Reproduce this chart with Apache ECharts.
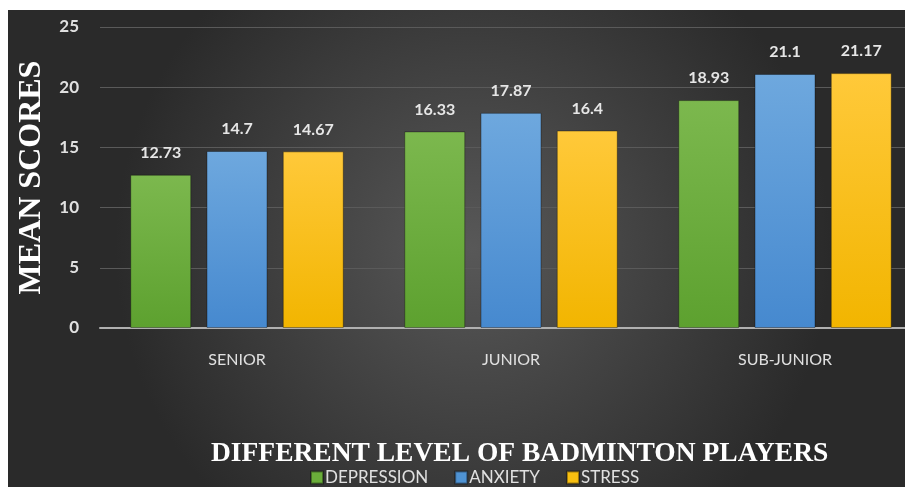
<!DOCTYPE html>
<html>
<head>
<meta charset="utf-8">
<script src="https://cdn.jsdelivr.net/npm/echarts@6/dist/echarts.min.js"></script>
<style>
html,body{margin:0;padding:0;background:#fff;overflow:hidden;}
#wrap{position:absolute;left:8px;top:10px;width:897px;height:477px;overflow:hidden;}
#c{position:absolute;left:0;top:0;width:930px;height:477px;}
</style>
</head>
<body>
<div id="wrap"><div id="c"></div></div>
<script>
const categories = ['SENIOR', 'JUNIOR', 'SUB-JUNIOR'];
const seriesNames = ['DEPRESSION', 'ANXIETY', 'STRESS'];
const depression = [12.73, 16.33, 18.93];
const anxiety = [14.7, 17.87, 21.1];
const stress = [14.67, 16.4, 21.17];
const yTicks = [0, 5, 10, 15, 20, 25];

const chart = echarts.init(document.getElementById('c'));
function grad(top, bottom) {
  return new echarts.graphic.LinearGradient(0, 0, 0, 1, [
    {offset: 0, color: top}, {offset: 1, color: bottom}
  ]);
}
const colors = [grad('#7cb84e', '#5da12f'), grad('#6ea8de', '#4689cf'), grad('#ffc93a', '#f2b500')];
const legendColors = ['#6aad3a', '#4f93d4', '#f8bf10'];
const data = [depression, anxiety, stress];
const labelStyle = {
  show: true, position: 'top', distance: 14,
  color: '#e6e6e6', fontFamily: 'Lato', fontSize: 16, fontWeight: 'bold'
};
chart.setOption({
  backgroundColor: new echarts.graphic.RadialGradient(0.5, 0.5, 0.75, [
    {offset: 0, color: '#585858'}, {offset: 1, color: '#2a2a2a'}
  ]),
  title: {
    text: 'DIFFERENT LEVEL OF BADMINTON PLAYERS',
    left: 198, top: 425,
    textStyle: {fontFamily: 'Liberation Serif', fontWeight: 'bold', fontSize: 27.5, color: '#ffffff'}
  },
  legend: {
    data: seriesNames.map((n, i) => ({name: n, itemStyle: {color: legendColors[i]}})),
    top: 454, left: 297,
    icon: 'rect', itemWidth: 12, itemHeight: 12, itemGap: 26,
    textStyle: {color: '#e0e0e0', fontFamily: 'Lato', fontSize: 17, padding: [0, 0, 0, -3]}
  },
  grid: {left: 91, top: 17, width: 823, height: 301, containLabel: false},
  xAxis: {
    type: 'category', data: categories,
    axisLine: {lineStyle: {color: '#b0b0b0', width: 2}},
    axisTick: {show: false},
    axisLabel: {color: '#e0e0e0', fontFamily: 'Lato', fontSize: 16, margin: 24}
  },
  yAxis: {
    type: 'value', min: 0, max: 25, interval: 5,
    name: 'MEAN SCORES', nameLocation: 'middle', nameGap: 52,
    nameTextStyle: {fontFamily: 'Liberation Serif', fontWeight: 'bold', fontSize: 32, color: '#ffffff'},
    axisLine: {show: false}, axisTick: {show: false},
    splitLine: {lineStyle: {color: '#5a5a5a', width: 1}},
    axisLabel: {color: '#e0e0e0', fontFamily: 'Lato', fontSize: 17, fontWeight: 'bold', margin: 21,
      formatter: v => yTicks.includes(v) ? String(v) : ''}
  },
  series: seriesNames.map((n, i) => ({
    name: n, type: 'bar', data: data[i],
    barWidth: 61, barGap: '25%',
    itemStyle: {color: colors[i], borderColor: 'rgba(0,0,0,0.35)', borderWidth: 1},
    label: labelStyle
  }))
});
</script>
</body>
</html>
